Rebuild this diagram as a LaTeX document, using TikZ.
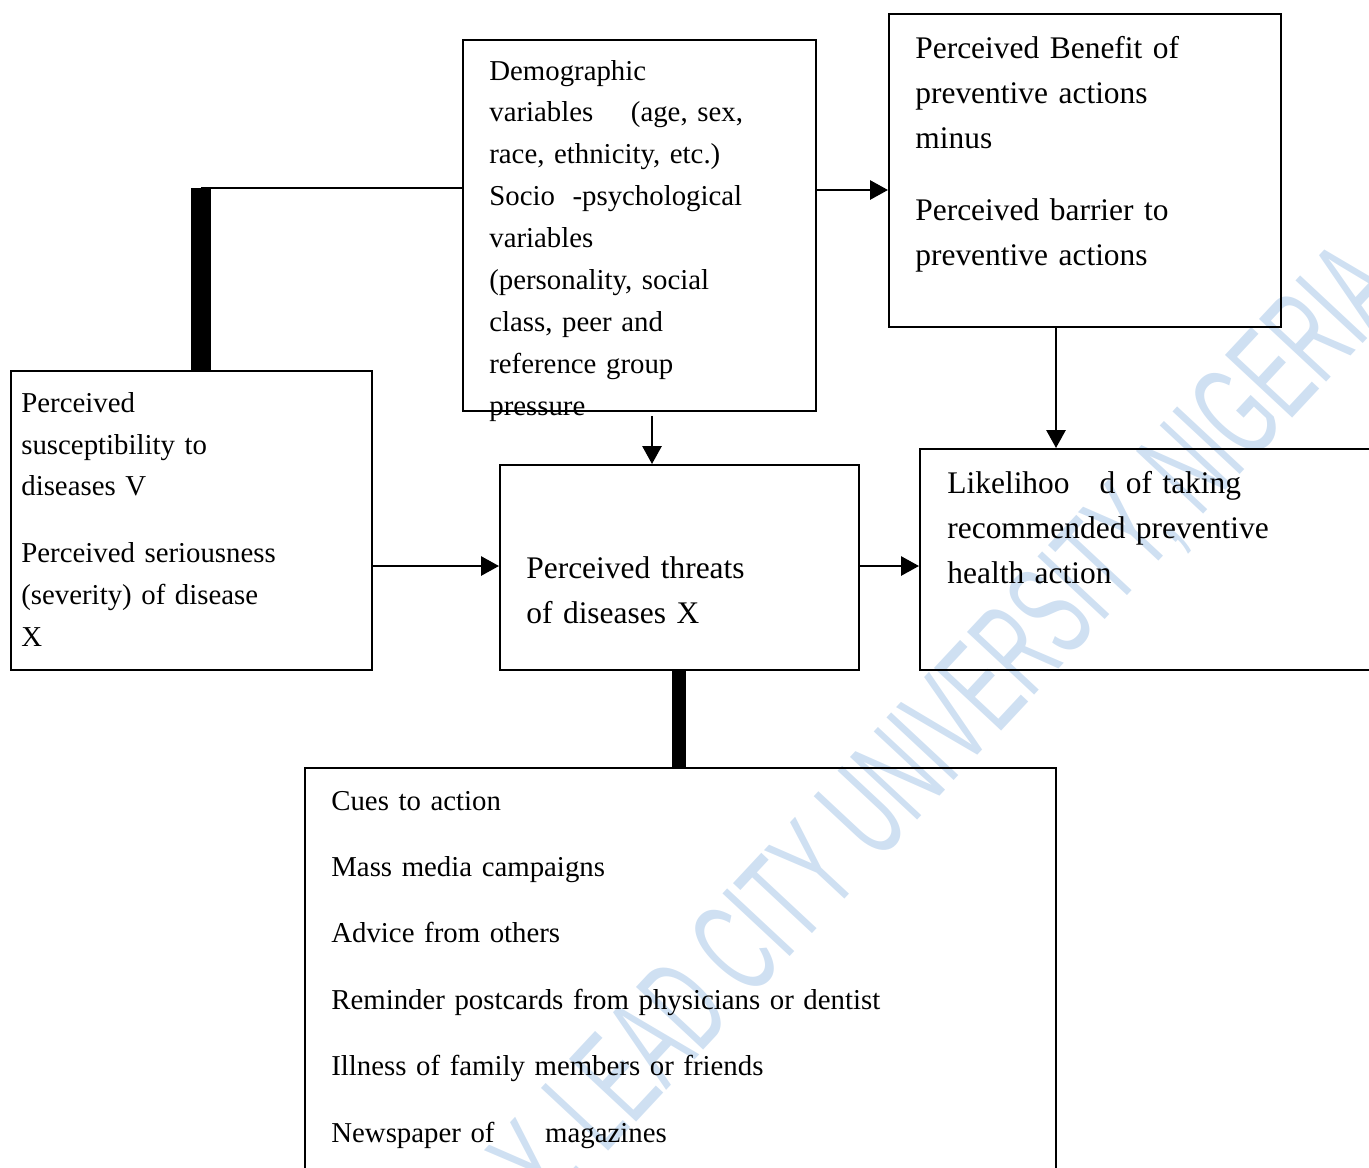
\documentclass[tikz,border=0pt]{standalone}
\usepackage{fontspec}
\setmainfont{Liberation Serif}
\newfontfamily\wmfont{Liberation Sans}
\usetikzlibrary{arrows.meta,fit,calc}

\newcommand{\txtsmall}{\fontsize{16.4pt}{23.9pt}\selectfont}
\newcommand{\txtlarge}{\fontsize{17.9pt}{25.7pt}\selectfont}
\newcommand{\txtcues}{\fontsize{16.4pt}{37.8pt}\selectfont}
\definecolor{wmblue}{RGB}{207,224,242}

\tikzset{
    box/.style={draw, line width=1.1pt, inner sep=0pt},
    txt/.style={anchor=base west, align=left, inner sep=0pt, text width=#1},
    arr/.style={line width=1.6pt, -{Triangle[length=0.36cm,width=0.38cm]}},
}

\begin{document}
\begin{tikzpicture}[x=0.02cm, y=-0.02cm]
                \useasboundingbox (0,0) rectangle (1369,1167);
                \clip (0,0) rectangle (1369,1167);
                % \draw[step=50, gray, very thin] (0,0) grid (1369,1167);

                % watermark
                \node[rotate=47, text=wmblue, font=\wmfont\fontsize{76pt}{76pt}\selectfont] (stamp) at (950,730) {\scalebox{0.55}[1]{Y. LEAD CITY UNIVERSITY, NIGERIA}};

                \begin{scope}
                    \node[box, fit={(463,40) (816,411)}] (demo) {};
                    \node[box, fit={(889,14) (1281,327)}] (benefit) {};
                    \node[box, fit={(11,371) (372,670)}] (suscept) {};
                    \node[box, fit={(500,465) (859,670)}] (threat) {};
                    \node[box, fit={(920,449) (1400,670)}] (likely) {};
                    \node[box, fit={(305,768) (1056,1200)}] (cues) {};
                \end{scope}

                \node[txt=9cm, font=\txtsmall] (demotxt) at (489,80) {Demographic\\ variables\hspace{0.56cm} (age, sex,\\ race, ethnicity, etc.)\\ Socio\hspace{0.16cm} -psychological\\ variables\\ (personality, social\\ class, peer and\\ reference group\\ pressure};
                \node[txt=9cm, font=\txtlarge] (benefittxt) at (915,58) {Perceived Benefit of\\ preventive actions\\ minus\\[0.54cm] Perceived barrier to\\ preventive actions};
                \node[txt=9cm, font=\txtsmall] (suscepttxt) at (21,412) {Perceived\\ susceptibility to\\ diseases V\\[0.5cm] Perceived seriousness\\ (severity) of disease\\ X};
                \node[txt=9cm, font=\txtlarge] (threattxt) at (526,578) {Perceived threats\\ of diseases X};
                \node[txt=9cm, font=\txtlarge] (likelytxt) at (947,493) {Likelihoo\hspace{0.6cm}d of taking\\ recommended preventive\\ health action};
                \node[txt=16cm, font=\txtcues] (cuestxt) at (331,810) {Cues to action\\ Mass media campaigns\\ Advice from others\\ Reminder postcards from physicians or dentist\\ Illness of family members or friends\\ Newspaper of\hspace{0.82cm} magazines};

                \begin{scope}
                    \pgfmathsetmacro{\yrowa}{190}
                    \pgfmathsetmacro{\yrowb}{566}
                    \coordinate (bend) at (201,188);
                    \coordinate (rowa) at (0,\yrowa);
                    \coordinate (rowb) at (0,\yrowb);
                    \coordinate (cola) at (652,0);
                    \coordinate (colb) at (1056,0);
                    \coordinate (colc) at (679,0);

                    \draw[line width=0.4cm] (suscept.north -| bend) -- (bend);
                    \draw[line width=1.7pt] (bend) -- (bend -| demo.west);
                    \draw[arr] (demo.east |- rowa) -- (benefit.west |- rowa);
                    \draw[arr] ($(demo.south -| cola)+(0,4)$) -- (threat.north -| cola);
                    \draw[arr] (benefit.south -| colb) -- (likely.north -| colb);
                    \foreach \a/\b in {suscept/threat,threat/likely} {
                            \draw[arr] (\a.east |- rowb) -- (\b.west |- rowb);
                        }
                    \draw[line width=0.28cm] (threat.south -| colc) -- (cues.north -| colc);
                \end{scope}
            \end{tikzpicture}
\end{document}
